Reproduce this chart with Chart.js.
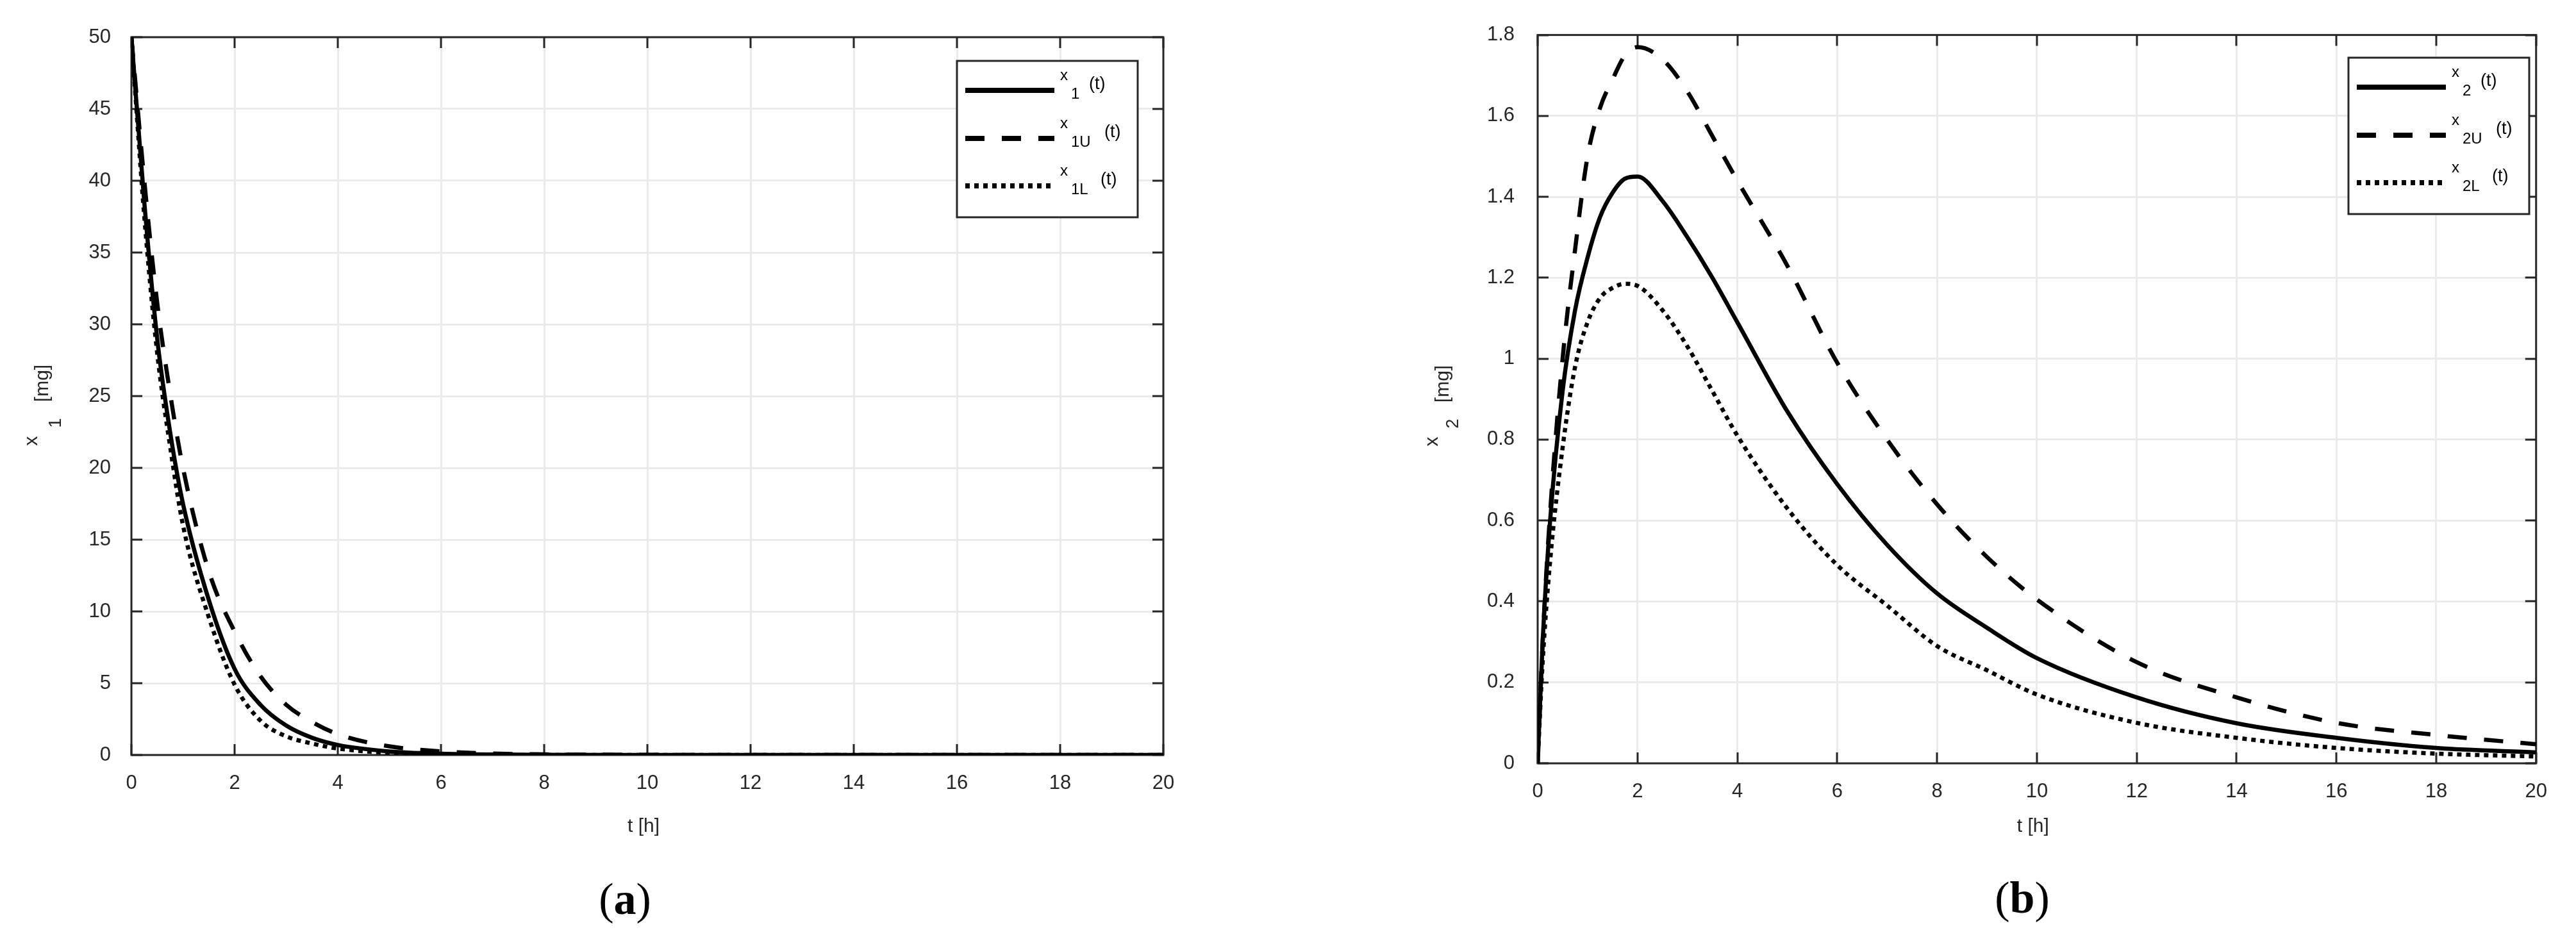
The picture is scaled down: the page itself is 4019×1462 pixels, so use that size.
<!DOCTYPE html>
<html><head><meta charset="utf-8">
<script src="https://cdn.jsdelivr.net/npm/chart.js@4"></script>
<style>
html,body{margin:0;padding:0;background:#fff;width:4019px;height:1462px;overflow:hidden}
canvas{position:absolute;top:0}
.cap{position:absolute;font-family:'Liberation Serif',serif;font-size:70px;color:#000;transform:translate(-50%,-50%);white-space:nowrap}
.cap b{font-weight:bold}
</style></head><body>
<canvas id="ca" width="1900" height="1462" style="left:0"></canvas>
<canvas id="cb" width="1900" height="1462" style="left:2100px"></canvas>
<div class="cap" style="left:975px;top:1403px">(<b>a</b>)</div>
<div class="cap" style="left:3155px;top:1401px">(<b>b</b>)</div>
<script>
// ---- data ----
const tA = [0,0.25,0.5,0.75,1,1.5,2,2.5,3,3.5,4,5,6,7,8,10,12,14,16,18,20];
const x1  = [50,38.5,29,22.5,17.5,10.8,6.0,3.5,2.05,1.2,0.7,0.25,0.09,0.03,0.01,0,0,0,0,0,0];
const x1U = [50,40,31.5,25.2,20,12.8,8.6,5.5,3.5,2.3,1.45,0.6,0.25,0.1,0.04,0.01,0,0,0,0,0];
const x1L = [50,37.5,28,21.5,16,9.6,4.9,2.4,1.3,0.8,0.45,0.15,0.05,0.015,0,0,0,0,0,0,0];
const tB = [0,0.1,0.25,0.5,0.75,1,1.25,1.5,1.75,2,2.5,3,3.5,4,5,6,7,8,9,10,12,14,16,18,20];
const x2  = [0,0.3,0.6,0.92,1.12,1.25,1.35,1.41,1.445,1.45,1.39,1.30,1.2,1.09,0.87,0.69,0.54,0.42,0.335,0.26,0.163,0.099,0.063,0.038,0.027];
const x2U = [0,0.3,0.62,1.0,1.27,1.5,1.62,1.69,1.75,1.77,1.74,1.66,1.55,1.44,1.23,0.99,0.8,0.64,0.51,0.405,0.25,0.163,0.10,0.07,0.047];
const x2L = [0,0.25,0.5,0.78,0.98,1.09,1.15,1.175,1.185,1.18,1.12,1.03,0.92,0.81,0.63,0.49,0.39,0.29,0.23,0.17,0.10,0.063,0.038,0.024,0.017];
const xTicks = [0,2,4,6,8,10,12,14,16,18,20];
const xTickLabels = ['0','2','4','6','8','10','12','14','16','18','20'];
const yTicksA = [0,5,10,15,20,25,30,35,40,45,50];
const yTickLabelsA = ['0','5','10','15','20','25','30','35','40','45','50'];
const yTicksB = [0,0.2,0.4,0.6,0.8,1,1.2,1.4,1.6,1.8];
const yTickLabelsB = ['0','0.2','0.4','0.6','0.8','1','1.2','1.4','1.6','1.8'];
const legendA = [['x','1'],['x','1U'],['x','1L']];
const legendB = [['x','2'],['x','2U'],['x','2L']];

const FONT = "'Liberation Sans', Arial, sans-serif";
const styles = [[], [30,27], [7,7]];

function pts(t, v){ return t.map((x,i)=>({x:x,y:v[i]})); }

const overlay = {
  id:'overlay',
  beforeDatasetsDraw(chart){
    const c=chart.ctx, a=chart.chartArea, o=chart.options.plugins.overlay;
    c.save();
    c.strokeStyle='#262626'; c.lineWidth=3;
    const xs=chart.scales.x, ys=chart.scales.y;
    c.beginPath();
    xTicks.forEach(v=>{const p=Math.round(xs.getPixelForValue(v));
      c.moveTo(p,a.bottom); c.lineTo(p,a.bottom-17); c.moveTo(p,a.top); c.lineTo(p,a.top+17);});
    o.yt.forEach(v=>{const p=Math.round(ys.getPixelForValue(v));
      c.moveTo(a.left,p); c.lineTo(a.left+17,p); c.moveTo(a.right,p); c.lineTo(a.right-17,p);});
    c.stroke();
    c.strokeRect(a.left,a.top,a.right-a.left,a.bottom-a.top);
    c.restore();
  },
  afterDraw(chart){
    const c=chart.ctx, o=chart.options.plugins.overlay, a=chart.chartArea;
    c.save();
    // x title
    c.fillStyle='#262626'; c.font='30px '+FONT; c.textAlign='center'; c.textBaseline='middle';
    c.fillText('t [h]', (a.left+a.right)/2-6, 1290);
    // y title (rotated)
    const yt=o.ytitle;
    c.save(); c.translate(yt.x, yt.y); c.rotate(-Math.PI/2);
    c.font='30px '+FONT; c.fillText('x',0,0);
    c.font='27px '+FONT; c.fillText(yt.sub,28,yt.dsub);
    c.font='30px '+FONT; c.fillText('[mg]',90,17);
    c.restore();
    // legend
    const L=o.legend, bx=L.x, by=L.y;
    c.fillStyle='#fff'; c.fillRect(bx,by,282,244);
    c.strokeStyle='#262626'; c.lineWidth=3; c.strokeRect(bx,by,282,244);
    const rows=[46,121,195], tx=[206,230,224];
    L.items.forEach((it,i)=>{
      const ly=by+rows[i];
      c.strokeStyle='#000'; c.lineWidth=8; c.lineCap='butt'; c.setLineDash(styles[i]);
      c.beginPath(); c.moveTo(bx+13,ly); c.lineTo(bx+152,ly); c.stroke(); c.setLineDash([]);
      c.fillStyle='#000'; c.textAlign='left'; c.textBaseline='middle';
      c.font='24px '+FONT; c.fillText(it[0],bx+161,ly-23);
      c.fillText(it[1],bx+178,ly+6);
      c.font='27px '+FONT; c.fillText('(t)',bx+tx[i],ly-9);
    });
    c.restore();
  }
};

function make(id, t, series, yt, ylab, ymax, geom){
  const ds = series.map((v,i)=>({data:pts(t,v), borderColor:'#000', borderWidth:6.5,
     borderDash:styles[i], pointRadius:0, cubicInterpolationMode:'monotone', fill:false, borderCapStyle:'butt'}));
  return new Chart(document.getElementById(id),{
    type:'line', data:{datasets:ds},
    options:{responsive:false, devicePixelRatio:1, animation:false,
      layout:{padding:{top:geom.top,right:geom.right,left:0,bottom:0}},
      plugins:{legend:{display:false},tooltip:{enabled:false},
        overlay:{yt:yt, ytitle:geom.ytitle, legend:{x:geom.lx,y:geom.ly,items:geom.items}}},
      scales:{
        x:{type:'linear',min:0,max:20,
          afterBuildTicks:s=>{s.ticks=xTicks.map(v=>({value:v}));},
          afterFit:s=>{s.height=geom.xh;},
          grid:{color:'#ebebeb',lineWidth:3,drawTicks:false},border:{display:false},
          ticks:{padding:26,color:'#262626',font:{family:FONT,size:31},maxRotation:0,
            callback:(v,i)=>xTickLabels[i]}},
        y:{type:'linear',min:0,max:ymax,
          afterBuildTicks:s=>{s.ticks=yt.map(v=>({value:v}));},
          afterFit:s=>{s.width=geom.yw;},
          grid:{color:'#ebebeb',lineWidth:3,drawTicks:false},border:{display:false},
          ticks:{padding:geom.ypad,color:'#262626',font:{family:FONT,size:31},
            callback:(v,i)=>ylab[i]}}
      }},
    plugins:[overlay]
  });
}

make('ca', tA, [x1,x1U,x1L], yTicksA, yTickLabelsA, 50,
  {top:58,right:85,xh:284,yw:205,ypad:32,lx:1493,ly:95,items:legendA,
   ytitle:{x:50,y:688,sub:'1',dsub:38}});
make('cb', tB, [x2,x2U,x2L], yTicksB, yTickLabelsB, 1.8,
  {top:51,right:10,xh:271,yw:299,ypad:36,lx:1564,ly:90,items:legendB,
   ytitle:{x:135,y:689,sub:'2',dsub:33}});
</script>
</body></html>
